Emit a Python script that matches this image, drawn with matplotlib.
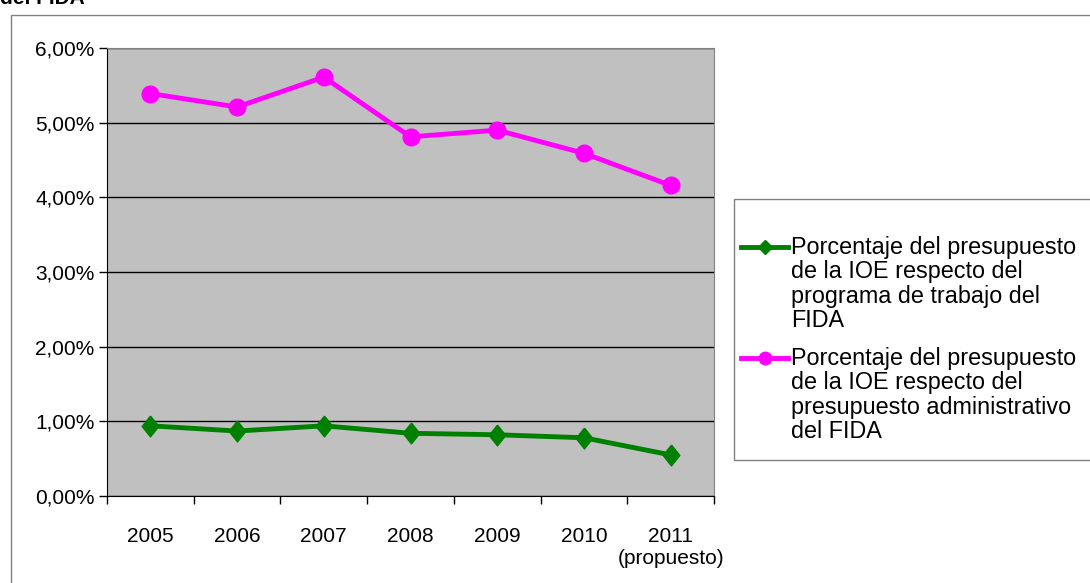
import numpy as np
import matplotlib.pyplot as plt
from matplotlib.patches import Rectangle
from matplotlib.lines import Line2D
from matplotlib.ticker import FixedLocator

plt.rcParams['font.family'] = ['Liberation Sans', 'DejaVu Sans']

# Données (en %)
annees = ['2005', '2006', '2007', '2008', '2009', '2010', '2011\n(propuesto)']
pct_programa = [0.94, 0.87, 0.94, 0.84, 0.82, 0.78, 0.55]
pct_administrativo = [5.39, 5.21, 5.61, 4.81, 4.90, 4.59, 4.16]
etiquettes = ['Porcentaje del presupuesto\nde la IOE respecto del\nprograma de trabajo del\nFIDA',
              'Porcentaje del presupuesto\nde la IOE respecto del\npresupuesto administrativo\ndel FIDA']
yticks = [0, 1, 2, 3, 4, 5, 6]

vert = '#008000'
rose = '#ff00ff'
losange = [(0, 1), (0.8, 0), (0, -1), (-0.8, 0), (0, 1)]

fig = plt.figure(figsize=(10.9, 5.83), dpi=100)
W, H = 1090, 583

# cadre du graphique (coupé à droite et en bas)
fig.patches.append(Rectangle((11 / W, -0.05), 1.2, 1 - 15 / H + 0.05, transform=fig.transFigure,
                             fill=False, edgecolor='#808080', linewidth=1))
fig.text(0.0, 1 - 4 / H, 'del FIDA', fontsize=15, fontweight='bold', va='baseline', ha='left')

ax = fig.add_axes([107 / W, 1 - 496 / H, (714 - 107) / W, (496 - 48) / H])
ax.set_facecolor('#c0c0c0')
x = np.arange(len(annees))
ax.plot(x, pct_programa, color=vert, linewidth=3.5, marker=losange, markersize=15, zorder=3)
ax.plot(x, pct_administrativo, color=rose, linewidth=3.5, marker='o', markersize=12, zorder=3)

ax.set_xlim(-0.5, len(annees) - 0.5)
ax.set_ylim(0, 6)
ax.set_yticks(yticks)
ax.set_yticklabels(['{:.2f}%'.format(v).replace('.', ',') for v in yticks])
ax.grid(axis='y', color='black', linewidth=1)
ax.set_axisbelow(True)
ax.set_xticks(x)
ax.set_xticklabels(annees)
ax.xaxis.set_minor_locator(FixedLocator(np.arange(-0.5, len(annees), 1)))
ax.tick_params(axis='x', which='major', length=0, pad=22, labelsize=15)
ax.tick_params(axis='x', which='minor', length=6, width=1, direction='out')
ax.tick_params(axis='y', length=6, width=1, direction='out', pad=3, labelsize=15)
for t in ax.get_xticklabels():
    t.set_linespacing(1.25)
ax.spines['top'].set_color('#808080')
ax.spines['right'].set_color('#808080')

# légende (cadre coupé à droite)
fig.patches.append(Rectangle((734 / W, 1 - 460 / H), 1.0, (460 - 199) / H, transform=fig.transFigure,
                             fill=False, edgecolor='#808080', linewidth=1))
series_leg = [(vert, 'D', 7, 236), (rose, 'o', 9, 347)]
for (c, m, ms, ytop), lab in zip(series_leg, etiquettes):
    fig.text(791 / W, 1 - ytop / H, lab, fontsize=16.8, va='top', ha='left', linespacing=1.07)
    yl = 1 - (ytop + 11) / H
    fig.add_artist(Line2D([741 / W, 764.5 / W, 788 / W], [yl, yl, yl], transform=fig.transFigure,
                          color=c, linewidth=3.5, marker=m, markersize=ms, markevery=[1]))

fig.savefig('out.png', dpi=100)
